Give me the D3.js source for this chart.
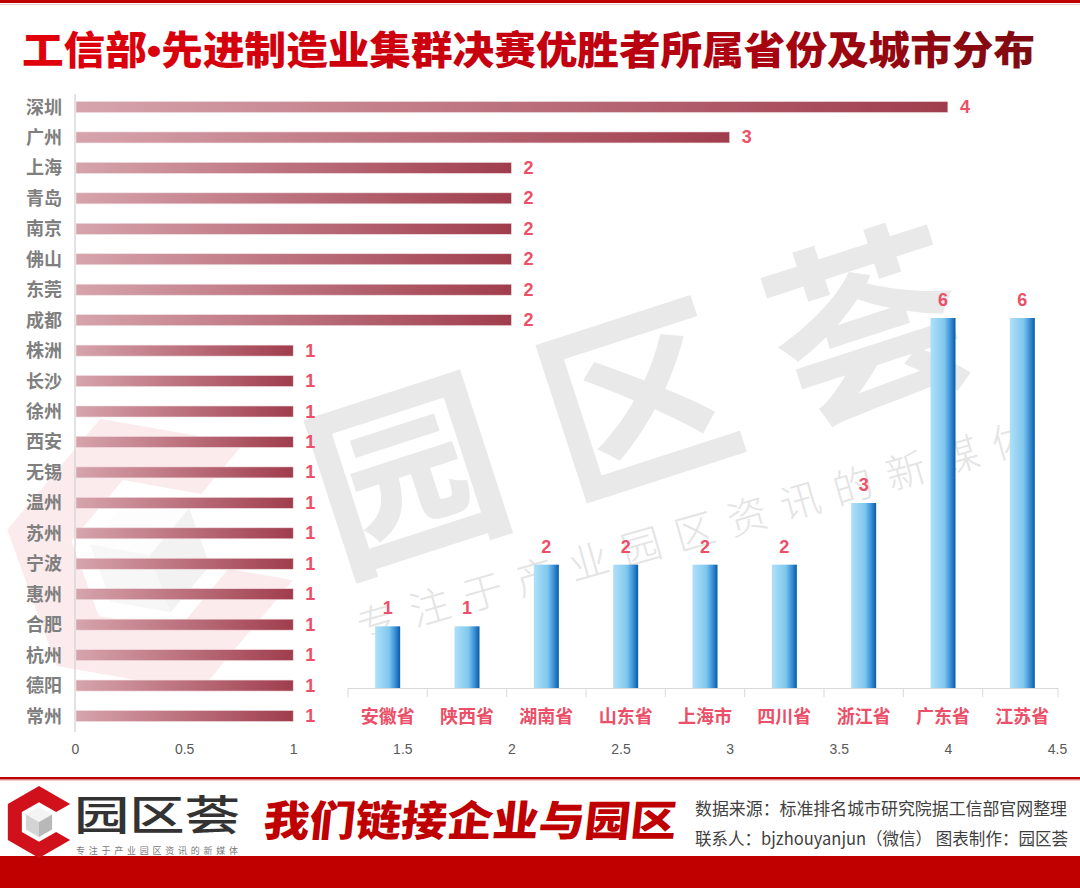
<!DOCTYPE html>
<html>
<head>
<meta charset="utf-8">
<script src="https://cdn.jsdelivr.net/npm/d3@7"></script>
<style>
  html, body { margin: 0; padding: 0; background: #ffffff; }
  svg { display: block; }
  text { font-family: "Noto Sans CJK SC", "Noto Sans", sans-serif; }
</style>
</head>
<body>
<svg id="chart" width="1080" height="888"></svg>
<script>
// ---------------- data ----------------
const titleParts = ["工信部", "•", "先进制造业集群决赛优胜者所属省份及城市分布"];
const cities = ["深圳","广州","上海","青岛","南京","佛山","东莞","成都","株洲","长沙","徐州","西安","无锡","温州","苏州","宁波","惠州","合肥","杭州","德阳","常州"];
const cityValues = [4,3,2,2,2,2,2,2,1,1,1,1,1,1,1,1,1,1,1,1,1];
const xTicks = [0,0.5,1,1.5,2,2.5,3,3.5,4,4.5];
const provinces = ["安徽省","陕西省","湖南省","山东省","上海市","四川省","浙江省","广东省","江苏省"];
const provinceValues = [1,1,2,2,2,2,3,6,6];
const sourceText = "数据来源：标准排名城市研究院据工信部官网整理";
const contactText = "联系人：bjzhouyanjun（微信） 图表制作：园区荟";
const brandText = "园区荟";
const sloganText = "专注于产业园区资讯的新媒体";
const mottoText = "我们链接企业与园区";

// ---------------- setup ----------------
const svg = d3.select("#chart");
const defs = svg.append("defs");
const CJK = '"Noto Sans CJK SC", "Noto Sans", sans-serif';
const NARROW = '"Liberation Sans Narrow", "Arial Narrow", "Liberation Sans", sans-serif';

const tg = defs.append("linearGradient").attr("id","titleGrad").attr("x1","0").attr("x2","1").attr("y1","0").attr("y2","0");
tg.append("stop").attr("offset","0%").attr("stop-color","#e0000b");
tg.append("stop").attr("offset","55%").attr("stop-color","#c20010");
tg.append("stop").attr("offset","100%").attr("stop-color","#800a10");

const bg = defs.append("linearGradient").attr("id","barGrad").attr("x1","0").attr("x2","1").attr("y1","0").attr("y2","0");
bg.append("stop").attr("offset","0%").attr("stop-color","#d6a4ac");
bg.append("stop").attr("offset","100%").attr("stop-color","#a03d4d");

const cg = defs.append("linearGradient").attr("id","colGrad").attr("x1","0").attr("x2","1").attr("y1","0").attr("y2","0");
cg.append("stop").attr("offset","0%").attr("stop-color","#b0e0f8");
cg.append("stop").attr("offset","55%").attr("stop-color","#80c8ee");
cg.append("stop").attr("offset","80%").attr("stop-color","#3a90d6");
cg.append("stop").attr("offset","100%").attr("stop-color","#0a5aa8");

// ---------------- frame ----------------
svg.append("rect").attr("x",0).attr("y",0).attr("width",1080).attr("height",3).attr("fill","#c00000");
svg.append("rect").attr("x",0).attr("y",4).attr("width",1080).attr("height",1).attr("fill","#e8c8c8");

const title = svg.append("text")
  .attr("x", 22).attr("y", 64)
  .attr("textLength", 1013).attr("lengthAdjust","spacingAndGlyphs")
  .style("font-family", CJK).style("font-size","39px").style("font-weight","900")
  .attr("fill","url(#titleGrad)");
title.append("tspan").text(titleParts[0]);
title.append("tspan").style("font-family", '"Liberation Sans", sans-serif').text(titleParts[1]);
title.append("tspan").text(titleParts[2]);

// ---------------- logo helper ----------------
function drawLogo(g, cx, cy, R, red, opacity) {
  const pt = (r, a) => [cx + r * Math.cos(a * Math.PI / 180), cy + r * Math.sin(a * Math.PI / 180)];
  const ri = R * 0.55;
  const outer = [-30,-90,-150,150,90,30].map(a => pt(R, a));
  const inner = [30,90,150,-150,-90,-30].map(a => pt(ri, a));
  const pts = outer.concat(inner);
  g.append("path").attr("d", "M" + pts.map(p => p.join(",")).join("L") + "Z")
    .attr("fill", red).attr("opacity", opacity);
  const rc = R * 0.42;
  const c0 = [cx, cy];
  const top = [c0, pt(rc,-30), pt(rc,-90), pt(rc,-150)];
  const left = [c0, pt(rc,-150), pt(rc,150), pt(rc,90)];
  const right = [c0, pt(rc,90), pt(rc,30), pt(rc,-30)];
  [[top,"#f4f4f4"],[left,"#d4d4d4"],[right,"#b8b8b8"]].forEach(([p,c]) => {
    g.append("path").attr("d","M"+p.map(q=>q.join(",")).join("L")+"Z").attr("fill",c).attr("opacity", opacity);
  });
}

// ---------------- watermark ----------------
const wm = svg.append("g").attr("class","watermark");
const wlogo = wm.append("g").attr("transform","rotate(-20,150,555)");
drawLogo(wlogo, 150, 555, 145, "#e8909c", 0.18);

wm.append("text")
  .attr("transform","translate(338,572) rotate(-18)")
  .style("font-family", CJK).style("font-size","192px").style("font-weight","700")
  .attr("letter-spacing", 50)
  .attr("fill","#e9e9e9")
  .text(brandText);
wm.append("text")
  .attr("transform","translate(362,642) rotate(-16)")
  .style("font-family", CJK).style("font-size","40px").style("font-weight","300")
  .attr("letter-spacing", 15)
  .attr("fill","#e4e4e4")
  .text(sloganText);

// ---------------- horizontal bar chart (cities) ----------------
const x = d3.scaleLinear().domain([0, 4.5]).range([75, 1057]);
const y = d3.scalePoint().domain(cities).range([107, 716]);
const barH = 11;

svg.append("line").attr("x1", x(0)).attr("x2", x(0)).attr("y1", 94).attr("y2", 732)
  .attr("stroke","#d9d9d9").attr("stroke-width",1.5);

const hb = svg.append("g");
hb.selectAll("rect").data(cities).join("rect")
  .attr("x", x(0) + 1)
  .attr("y", d => y(d) - barH / 2)
  .attr("width", (d, i) => x(cityValues[i]) - x(0) - 1)
  .attr("height", barH)
  .attr("fill","url(#barGrad)")
  .attr("stroke","#f2dde0").attr("stroke-width",0.6);

hb.selectAll("text.city").data(cities).join("text")
  .attr("class","city")
  .attr("x", 62).attr("y", d => y(d) + 6.5)
  .attr("text-anchor","end")
  .style("font-family", CJK).style("font-size","18px").style("font-weight","700")
  .attr("fill","#7f7f7f")
  .text(d => d);

hb.selectAll("text.val").data(cities).join("text")
  .attr("class","val")
  .attr("x", (d, i) => x(cityValues[i]) + 12)
  .attr("y", d => y(d) + 6)
  .style("font-family", NARROW).style("font-size","18px").style("font-weight","700")
  .attr("fill","#ec4f68")
  .text((d, i) => cityValues[i]);

const xAxis = d3.axisBottom(x).tickValues(xTicks).tickSize(0).tickFormat(d3.format(""));
const xg = svg.append("g").attr("transform","translate(0,741)").call(xAxis);
xg.select(".domain").remove();
xg.selectAll("text").style("font-family", NARROW).style("font-size","14px").attr("fill","#595959");

// ---------------- column chart (provinces) ----------------
const px = d3.scaleBand().domain(provinces).range([348, 1062]).padding(0);
const py = d3.scaleLinear().domain([0, 6]).range([688, 318]);
const colW = 25;

svg.append("line").attr("x1", 348).attr("x2", 1058).attr("y1", 688.5).attr("y2", 688.5)
  .attr("stroke","#d9d9d9").attr("stroke-width",1.2);
svg.append("g").selectAll("line").data(provinces.concat(["__end"])).join("line")
  .attr("x1", (d, i) => Math.min(348 + i * px.step(), 1058))
  .attr("x2", (d, i) => Math.min(348 + i * px.step(), 1058))
  .attr("y1", 688).attr("y2", 697)
  .attr("stroke","#d9d9d9").attr("stroke-width",1);

const cb = svg.append("g");
cb.selectAll("rect").data(provinces).join("rect")
  .attr("x", d => px(d) + px.bandwidth() / 2 - colW / 2)
  .attr("y", (d, i) => py(provinceValues[i]))
  .attr("width", colW)
  .attr("height", (d, i) => py(0) - py(provinceValues[i]))
  .attr("fill","url(#colGrad)");

cb.selectAll("text.cv").data(provinces).join("text")
  .attr("class","cv")
  .attr("x", d => px(d) + px.bandwidth() / 2)
  .attr("y", (d, i) => py(provinceValues[i]) - 12)
  .attr("text-anchor","middle")
  .style("font-family", NARROW).style("font-size","18px").style("font-weight","700")
  .attr("fill","#ec4f68")
  .text((d, i) => provinceValues[i]);

cb.selectAll("text.pl").data(provinces).join("text")
  .attr("class","pl")
  .attr("x", d => px(d) + px.bandwidth() / 2)
  .attr("y", 723)
  .attr("text-anchor","middle")
  .style("font-family", CJK).style("font-size","18px").style("font-weight","700")
  .attr("fill","#ec4f68")
  .text(d => d);

// ---------------- footer ----------------
svg.append("rect").attr("x",0).attr("y",777).attr("width",1080).attr("height",2.5).attr("fill","#c00000");
svg.append("rect").attr("x",0).attr("y",780).attr("width",1080).attr("height",1).attr("fill","#ecd0d0");
svg.append("rect").attr("x",0).attr("y",856).attr("width",1080).attr("height",32).attr("fill","#c00000");

const flogo = svg.append("g");
drawLogo(flogo, 39, 822, 36, "#d0101a", 1);

svg.append("text").attr("x", 74).attr("y", 830)
  .attr("textLength", 166).attr("lengthAdjust","spacingAndGlyphs")
  .style("font-family", CJK).style("font-size","41px").style("font-weight","500")
  .attr("fill","#333333").text(brandText);
svg.append("text").attr("x", 76).attr("y", 853.5)
  .attr("textLength", 162).attr("lengthAdjust","spacing")
  .style("font-family", CJK).style("font-size","9px")
  .attr("fill","#7a7a7a").text(sloganText);

svg.append("text").attr("x", 262).attr("y", 836)
  .attr("textLength", 413).attr("lengthAdjust","spacingAndGlyphs")
  .attr("transform","skewX(-6) translate(88,0)")
  .style("font-family", CJK).style("font-size","42px").style("font-weight","900")
  .attr("fill","#c00000").text(mottoText);

svg.append("text").attr("x", 695).attr("y", 815)
  .attr("textLength", 372).attr("lengthAdjust","spacingAndGlyphs")
  .style("font-family", CJK).style("font-size","17px")
  .attr("fill","#3f3f3f").text(sourceText);
svg.append("text").attr("x", 695).attr("y", 845)
  .attr("textLength", 373).attr("lengthAdjust","spacingAndGlyphs")
  .style("font-family", CJK).style("font-size","17px")
  .attr("fill","#3f3f3f").text(contactText);
</script>
</body>
</html>
